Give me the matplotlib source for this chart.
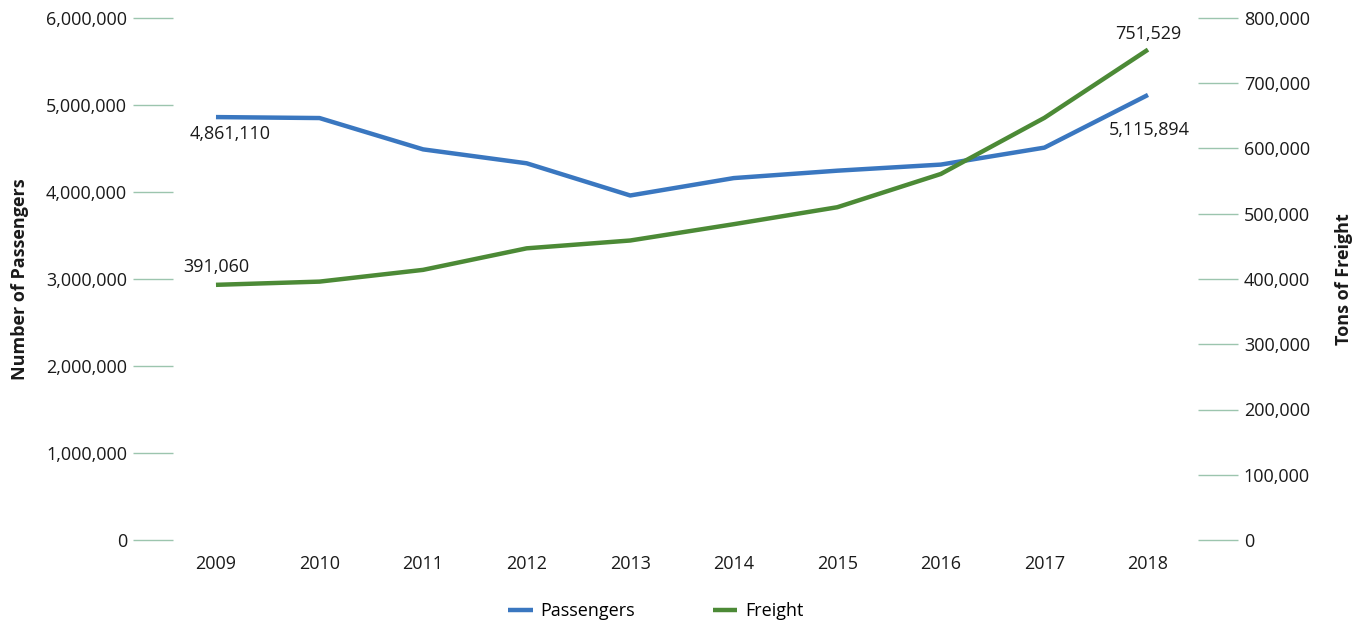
import matplotlib
matplotlib.use("Agg")
import matplotlib.pyplot as plt
from matplotlib.ticker import FuncFormatter

years = ["2009", "2010", "2011", "2012", "2013", "2014", "2015", "2016", "2017", "2018"]
passengers = [4861110, 4850000, 4490000, 4330000, 3960000, 4160000, 4245000, 4315000, 4510000, 5115894]
freight = [391060, 396000, 414000, 447000, 459000, 484000, 510000, 561000, 647000, 751529]

left_ticks = [0, 1000000, 2000000, 3000000, 4000000, 5000000, 6000000]
right_ticks = [0, 100000, 200000, 300000, 400000, 500000, 600000, 700000, 800000]

plt.rcParams['font.family'] = ['Open Sans', 'DejaVu Sans']

blue = '#3a77c0'
green = '#4c8a36'
tick_col = '#9cc5ae'
text_col = '#1a1a1a'
fs = 13

fig = plt.figure(figsize=(13.61, 6.22), dpi=100)
ax = fig.add_axes([173/1361, (622-540)/622, (1198-173)/1361, (540-18)/622])
ax2 = ax.twinx()

x = list(range(len(years)))
l1, = ax.plot(x, passengers, color=blue, lw=3.2, solid_capstyle='butt', label='Passengers', zorder=3)
l2, = ax2.plot(x, freight, color=green, lw=3.2, solid_capstyle='butt', label='Freight', zorder=3)

ax.set_xlim(-0.415, 9.483)
ax.set_ylim(0, 6000000)
ax2.set_ylim(0, 800000)
ax.set_yticks(left_ticks)
ax2.set_yticks(right_ticks)
ax.set_xticks(x)
ax.set_xticklabels(years)

fmt = FuncFormatter(lambda v, p: f"{int(v):,}")
ax.yaxis.set_major_formatter(fmt)
ax2.yaxis.set_major_formatter(fmt)

for a in (ax, ax2):
    for s in a.spines.values():
        s.set_visible(False)

ax.tick_params(axis='y', length=29, width=1.0, color=tick_col, pad=4, labelsize=fs, labelcolor=text_col)
ax2.tick_params(axis='y', length=29, width=1.0, color=tick_col, pad=4, labelsize=fs, labelcolor=text_col)
ax.tick_params(axis='x', length=0, pad=11, labelsize=fs, labelcolor=text_col)

ax.set_ylabel('Number of Passengers', fontsize=fs, fontweight='bold', color=text_col, labelpad=12)
ax2.set_ylabel('Tons of Freight', fontsize=fs, fontweight='bold', color=text_col, labelpad=18)

ax.annotate(f"{passengers[0]:,}", (x[0], passengers[0]), xytext=(10, -12), textcoords='offset points',
            ha='center', va='center', fontsize=fs, color=text_col)
ax.annotate(f"{passengers[-1]:,}", (x[-1], passengers[-1]), xytext=(1, -25), textcoords='offset points',
            ha='center', va='center', fontsize=fs, color=text_col)
ax2.annotate(f"{freight[0]:,}", (x[0], freight[0]), xytext=(0, 13), textcoords='offset points',
             ha='center', va='center', fontsize=fs, color=text_col)
ax2.annotate(f"{freight[-1]:,}", (x[-1], freight[-1]), xytext=(0, 11), textcoords='offset points',
             ha='center', va='center', fontsize=fs, color=text_col)

fig.legend(handles=[l1, l2], loc='center', bbox_to_anchor=(0.482, (622-611)/622),
           ncol=2, frameon=False, fontsize=fs, handlelength=1.35, columnspacing=4.3, handletextpad=0.45)

fig.savefig('out.png', dpi=100)
